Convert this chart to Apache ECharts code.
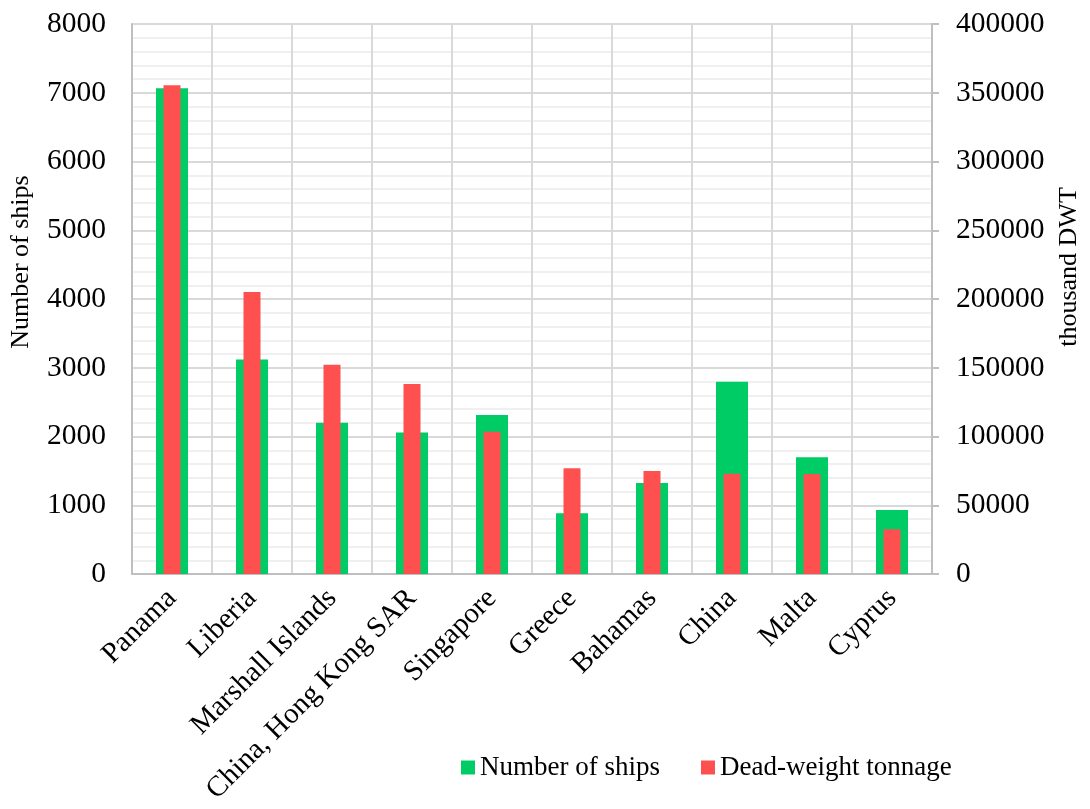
<!DOCTYPE html>
<html>
<head>
<meta charset="utf-8">
<script src="https://cdn.jsdelivr.net/npm/echarts@6/dist/echarts.min.js"></script>
<style>
  html, body { margin: 0; padding: 0; background: #fff; }
  #chart { width: 1090px; height: 809px; }
</style>
</head>
<body>
<div id="chart"></div>
<script>
// Flag registries: fleet size and carrying capacity
const countries = ['Panama', 'Liberia', 'Marshall Islands', 'China, Hong Kong SAR', 'Singapore',
  'Greece', 'Bahamas', 'China', 'Malta', 'Cyprus'];
const shipCounts = [7065, 3120, 2200, 2060, 2313, 883, 1324, 2797, 1697, 931];
const deadweight = [355400, 205100, 152200, 138200, 103500, 76900, 74900, 73000, 72700, 32500];

const FONT = 'Liberation Serif, Times New Roman, serif';
const GRID_MAJOR = '#d9d9d9';
const GRID_MINOR = '#f0f0f0';
const AXIS_LINE = '#bfbfbf';
const plain = v => String(v);

const chart = echarts.init(document.getElementById('chart'));
chart.setOption({
  animation: false,
  textStyle: { fontFamily: FONT, color: '#000' },
  grid: { left: 131, right: 152, top: 24, bottom: 235 },
  legend: {
    left: 461, top: 754, padding: 0,
    itemWidth: 14, itemHeight: 14, itemGap: 41,
    icon: 'rect',
    textStyle: { fontFamily: FONT, fontSize: 27, color: '#000' },
    data: ['Number of ships', 'Dead-weight tonnage']
  },
  xAxis: [
    {
      type: 'category', data: countries,
      axisLine: { lineStyle: { color: AXIS_LINE, width: 2 } },
      axisTick: { show: false },
      splitLine: { show: true, interval: 0, lineStyle: { color: GRID_MAJOR, width: 2 } },
      axisLabel: { interval: 0, rotate: 45, margin: 20, fontFamily: FONT, fontSize: 29, color: '#000' }
    },
    {
      type: 'category', data: countries, show: false
    }
  ],
  yAxis: [
    {
      type: 'value', min: 0, max: 8000, interval: 1000,
      name: 'Number of ships', nameLocation: 'middle', nameGap: 98,
      nameTextStyle: { fontFamily: FONT, fontSize: 26, color: '#000', padding: [0, 0, 0, 74] },
      axisLine: { show: true, lineStyle: { color: AXIS_LINE, width: 2 } },
      axisTick: { show: false },
      axisLabel: { margin: 26, fontFamily: FONT, fontSize: 29.5, color: '#000', formatter: plain },
      splitLine: { show: true, lineStyle: { color: GRID_MAJOR, width: 2 } },
      minorTick: { show: false, splitNumber: 5 },
      minorSplitLine: { show: true, lineStyle: { color: GRID_MINOR, width: 2 } }
    },
    {
      type: 'value', min: 0, max: 400000, interval: 50000, position: 'right',
      name: 'thousand DWT', nameLocation: 'middle', nameGap: 124,
      nameTextStyle: { fontFamily: FONT, fontSize: 26, color: '#000', padding: [0, 0, 0, 64] },
      axisLine: { show: true, lineStyle: { color: AXIS_LINE, width: 2 } },
      axisTick: { show: true, inside: false, length: 7, lineStyle: { color: AXIS_LINE, width: 2 } },
      axisLabel: { margin: 24, fontFamily: FONT, fontSize: 29.5, color: '#000', formatter: plain },
      splitLine: { show: false }
    }
  ],
  series: [
    {
      name: 'Number of ships', type: 'bar',
      xAxisIndex: 0, yAxisIndex: 0,
      barWidth: 32,
      itemStyle: { color: '#00CC66' },
      data: shipCounts, z: 2
    },
    {
      name: 'Dead-weight tonnage', type: 'bar',
      xAxisIndex: 1, yAxisIndex: 1,
      barWidth: 17,
      itemStyle: { color: '#FF5050' },
      data: deadweight, z: 3
    }
  ]
});
</script>
</body>
</html>
